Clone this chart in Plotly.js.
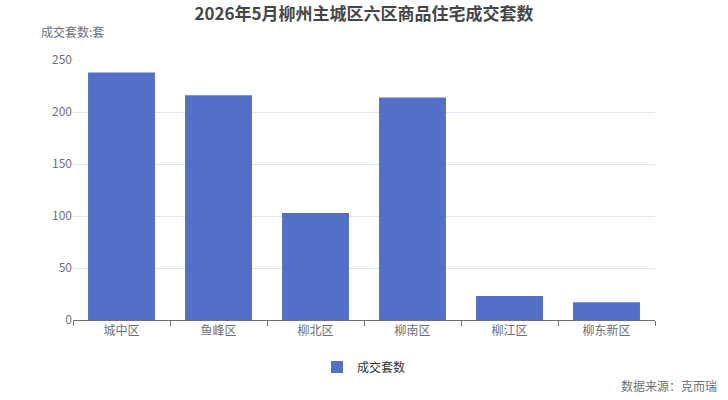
<!DOCTYPE html>
<html><head><meta charset="utf-8">
<script src="https://cdn.plot.ly/plotly-3.0.1.min.js"></script>
<style>body{margin:0;padding:0;background:#fff}#chart{width:728px;height:400px}</style>
</head><body><div id="chart"></div>
<script>
const categories = ["城中区","鱼峰区","柳北区","柳南区","柳江区","柳东新区"];
const values = [238, 216, 103, 214, 23, 17];
const seriesName = "成交套数";
const titleText = "2026年5月柳州主城区六区商品住宅成交套数";
const yTitle = "成交套数:套";
const sourceText = "数据来源：克而瑞";
const tickVals = [0, 50, 100, 150, 200, 250];

const font = "'Noto Sans CJK SC', 'Noto Sans', sans-serif";
const trace = {
  type: "bar", x: categories, y: values, name: seriesName,
  marker: {color: "#5470c6"}, showlegend: true
};
const layout = {
  width: 728, height: 400,
  margin: {l: 73, r: 73, t: 60, b: 80},
  paper_bgcolor: "#fff", plot_bgcolor: "#fff",
  font: {family: font, color: "#6e7079", size: 12},
  title: {text: "<b>" + titleText + "</b>", x: 0.5, xanchor: "center", y: 0.965, yanchor: "middle",
          font: {family: font, size: 17, color: "#464646"}},
  bargap: 0.31,
  xaxis: {
    type: "category", tickson: "boundaries", ticks: "outside", ticklen: 5, tickcolor: "#6e7079",
    showline: true, linecolor: "#6e7079", linewidth: 1, showgrid: false,
    tickfont: {size: 12, color: "#6e7079"}, fixedrange: true
  },
  yaxis: {
    range: [0, 250], tickvals: tickVals, showgrid: true, gridcolor: "#e0e6f1",
    zeroline: false, showline: false, ticks: "", ticklen: 0,
    tickfont: {size: 12, color: "#6e7079"}, fixedrange: true
  },
  legend: {orientation: "h", x: 0.5, xanchor: "center", y: -0.125, yanchor: "top",
           font: {size: 12, color: "#333"}},
  annotations: [
    {text: yTitle, xref: "paper", yref: "paper", x: -0.058, y: 1.07, xanchor: "left", yanchor: "bottom",
     showarrow: false, font: {size: 12, color: "#6e7079"}},
    {text: sourceText, xref: "paper", yref: "paper", x: 1.11, y: -0.25, xanchor: "right", yanchor: "middle",
     showarrow: false, font: {size: 12, color: "#6e7079"}}
  ]
};
Plotly.newPlot("chart", [trace], layout, {displayModeBar: false, staticPlot: true});
</script></body></html>
